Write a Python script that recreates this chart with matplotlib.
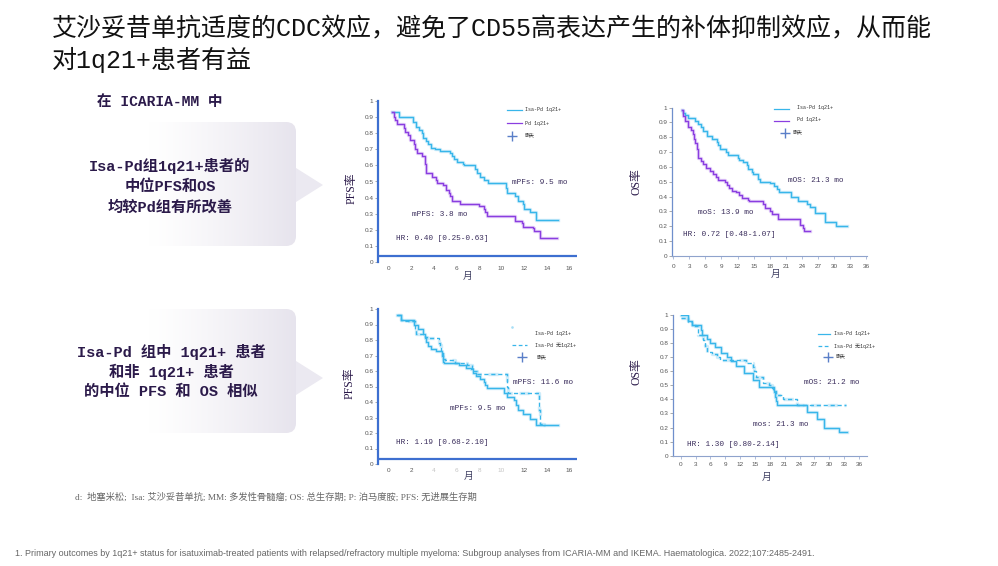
import numpy as np
import matplotlib
matplotlib.use("Agg")
import matplotlib.pyplot as plt
from matplotlib.patches import FancyBboxPatch, Polygon
from matplotlib.lines import Line2D

plt.rcParams['font.family'] = ['Noto Sans CJK SC', 'DejaVu Sans']

# ---------------- data ----------------
title_lines = ["艾沙妥昔单抗适度的CDC效应，避免了CD55高表达产生的补体抑制效应，从而能",
               "对1q21+患者有益"]
box1_lines = ["Isa-Pd组1q21+患者的", "中位PFS和OS", "均较Pd组有所改善"]
box2_lines = ["Isa-Pd 组中 1q21+ 患者", "和非 1q21+ 患者", "的中位 PFS 和 OS 相似"]

# Panel A: PFS, Isa-Pd 1q21+ vs Pd 1q21+
pfsA_isa_t = [0.3, 0.9, 2.1, 2.4, 2.7, 2.9, 3.0, 3.3, 3.5, 3.7, 4.1, 4.5, 5.4, 5.6, 5.8, 6.0, 6.6, 6.7,
              7.6, 7.8, 8.1, 8.4, 8.8, 10.4, 10.45, 11.2, 11.5, 11.9, 12.0, 12.5, 13.1, 15.0]
pfsA_isa_s = [0.93, 0.90, 0.87, 0.84, 0.82, 0.80, 0.77, 0.75, 0.73, 0.71, 0.70, 0.69, 0.68, 0.66, 0.64, 0.62,
              0.61, 0.60, 0.575, 0.55, 0.53, 0.51, 0.49, 0.46, 0.43, 0.41, 0.38, 0.36, 0.33, 0.31, 0.26, 0.26]
pfsA_pd_t = [0.3, 0.4, 0.5, 0.7, 1.3, 1.4, 1.7, 1.9, 2.2, 2.3, 2.5, 2.9, 3.2, 3.25, 3.3, 3.8, 4.2, 4.3, 4.8,
             5.1, 5.3, 5.4, 5.6, 6.3, 8.0, 8.4, 8.5, 8.7, 11.2, 11.8, 11.9, 12.8, 12.9, 13.4, 14.9]
pfsA_pd_s = [0.93, 0.90, 0.88, 0.86, 0.83, 0.81, 0.79, 0.76, 0.73, 0.70, 0.68, 0.66, 0.61, 0.58, 0.55, 0.53,
             0.51, 0.49, 0.48, 0.45, 0.43, 0.41, 0.38, 0.36, 0.345, 0.33, 0.31, 0.285, 0.255, 0.245, 0.22,
             0.21, 0.19, 0.15, 0.15]

# Panel B: OS, Isa-Pd 1q21+ vs Pd 1q21+
osB_isa_t = [1.6, 1.9, 2.2, 2.8, 4.0, 4.7, 5.2, 5.6, 6.4, 7.2, 8.2, 8.4, 8.7, 9.8, 10.3, 12.0, 12.2, 13.1,
             13.7, 14.0, 14.6, 14.9, 15.9, 16.2, 18.1, 18.8, 19.3, 19.8, 21.9, 23.3, 24.9, 25.5, 26.5,
             28.3, 30.4, 32.3]
osB_isa_s = [0.98, 0.96, 0.95, 0.93, 0.91, 0.89, 0.87, 0.84, 0.81, 0.79, 0.77, 0.75, 0.72, 0.70, 0.68,
             0.66, 0.645, 0.63, 0.61, 0.585, 0.565, 0.55, 0.52, 0.50, 0.49, 0.47, 0.45, 0.43, 0.40,
             0.37, 0.35, 0.33, 0.29, 0.23, 0.20, 0.20]
osB_pd_t = [1.6, 1.9, 2.2, 2.8, 3.4, 3.7, 3.9, 4.1, 4.4, 4.7, 5.2, 5.6, 6.2, 6.8, 7.5, 8.0, 8.4, 9.7, 10.1,
            10.5, 10.9, 11.8, 12.3, 12.8, 14.0, 14.2, 16.7, 17.1, 18.1, 18.4, 19.6, 23.7, 24.2, 24.3, 25.4]
osB_pd_s = [0.98, 0.94, 0.91, 0.87, 0.85, 0.82, 0.79, 0.76, 0.72, 0.66, 0.64, 0.62, 0.59, 0.57, 0.55,
            0.53, 0.51, 0.50, 0.48, 0.46, 0.44, 0.43, 0.41, 0.39, 0.38, 0.37, 0.35, 0.32, 0.30, 0.28,
            0.25, 0.21, 0.19, 0.17, 0.17]

# Panel C: PFS, Isa-Pd 1q21+ vs Isa-Pd non-1q21+
pfsC_pos_t = [0.74, 1.07, 2.2, 2.6, 3.05, 3.2, 3.3, 3.5, 3.7, 4.2, 4.7, 4.8, 4.85, 6.2, 6.8, 7.3, 7.5, 7.7,
              8.1, 8.4, 8.55, 8.7, 10.2, 10.5, 11.1, 11.3, 11.5, 11.9, 12.5, 13.1, 15.05]
pfsC_pos_s = [0.96, 0.93, 0.90, 0.87, 0.84, 0.81, 0.79, 0.76, 0.74, 0.73, 0.70, 0.66, 0.65, 0.64, 0.62,
              0.61, 0.59, 0.57, 0.55, 0.53, 0.51, 0.49, 0.46, 0.43, 0.41, 0.38, 0.35, 0.32, 0.29, 0.25, 0.25]
pfsC_neg_t = [0.74, 1.07, 1.3, 2.3, 2.4, 3.2, 3.35, 4.4, 4.5, 4.65, 4.8, 5.0, 5.9, 6.9, 7.35, 7.5, 7.8,
              10.46, 10.5, 10.6, 13.36, 13.4, 13.8, 13.9]
pfsC_neg_s = [0.96, 0.93, 0.92, 0.87, 0.84, 0.82, 0.81, 0.78, 0.77, 0.73, 0.68, 0.67, 0.65, 0.64, 0.62,
              0.60, 0.58, 0.55, 0.50, 0.46, 0.35, 0.26, 0.25, 0.25]

# Panel D: OS, Isa-Pd 1q21+ vs Isa-Pd non-1q21+
osD_pos_t = [0.0, 1.5, 2.2, 4.2, 4.4, 5.4, 5.9, 6.9, 8.1, 9.3, 10.1, 11.1, 12.8, 14.6, 15.8, 18.8, 19.1,
             19.3, 19.5, 25.5, 27.5, 28.9, 32.0, 33.6]
osD_pos_s = [1.0, 0.96, 0.93, 0.89, 0.86, 0.83, 0.80, 0.77, 0.73, 0.70, 0.67, 0.64, 0.59, 0.54, 0.49,
             0.45, 0.42, 0.39, 0.36, 0.31, 0.26, 0.20, 0.165, 0.165]
osD_neg_t = [0.0, 1.5, 2.2, 2.9, 3.6, 4.5, 4.9, 5.4, 6.4, 7.4, 7.9, 13.2, 14.6, 14.9, 15.3, 16.7, 17.8,
             18.5, 18.7, 19.3, 20.7, 23.5, 33.3]
osD_neg_s = [0.976, 0.95, 0.93, 0.92, 0.86, 0.82, 0.78, 0.74, 0.72, 0.70, 0.68, 0.66, 0.63, 0.60, 0.56,
             0.52, 0.50, 0.48, 0.46, 0.43, 0.40, 0.36, 0.36]

yticks = [0, 0.1, 0.2, 0.3, 0.4, 0.5, 0.6, 0.7, 0.8, 0.9, 1]
ytick_labels = ["0", "0.1", "0.2", "0.3", "0.4", "0.5", "0.6", "0.7", "0.8", "0.9", "1"]
pfs_xticks = list(range(0, 17, 2))
os_xticks = list(range(0, 37, 3))

# ---------------- style ----------------
W, H = 998, 566
CYAN = "#38b6ea"
CYAN_L = "#a6def6"
PURPLE = "#8a3ee0"
PURPLE_L = "#cfaaf3"
AXBLUE = "#3d6fd0"
TXT = "#3a2d5c"
DARK = "#2b1a4a"
MONO = ['Liberation Mono', 'Noto Sans CJK SC']
SERIF = ['Liberation Serif', 'Noto Sans CJK SC']

fig = plt.figure(figsize=(W / 100, H / 100), dpi=100)
fig.patch.set_facecolor("white")

# overlay axes in pixel coordinates
ov = fig.add_axes([0, 0, 1, 1], zorder=-1)
ov.set_xlim(0, W)
ov.set_ylim(H, 0)
ov.axis("off")


def px_axes(left, top, right, bottom):
    return fig.add_axes([left / W, 1 - bottom / H, (right - left) / W, (bottom - top) / H])


def km(ax, t, s, color, light, ls="-"):
    ax.step(t, s, where="post", color=light, lw=2.4, alpha=0.55, ls=ls, zorder=2)
    ax.step(t, s, where="post", color=color, lw=1.0, ls=ls, zorder=3)


def style_axes(ax, xlim, xticks, thick, xpad, xtick_alpha=None):
    ax.set_facecolor("none")
    ax.set_xlim(*xlim)
    ax.set_ylim(0, 1)
    ax.set_yticks(yticks)
    ax.set_yticklabels(ytick_labels)
    ax.set_xticks(xticks)
    ax.set_xticklabels([str(v) for v in xticks])
    for sp in ["top", "right"]:
        ax.spines[sp].set_visible(False)
    if thick:
        ax.spines["left"].set_color(AXBLUE)
        ax.spines["left"].set_linewidth(1.6)
        ax.spines["bottom"].set_visible(False)
        ax.axhline(0.035, color=AXBLUE, lw=1.6, zorder=4)
        ax.tick_params(axis="x", length=0, pad=xpad)
    else:
        ax.spines["left"].set_color("#6f8fcc")
        ax.spines["left"].set_linewidth(0.9)
        ax.spines["bottom"].set_color("#8fa3cc")
        ax.spines["bottom"].set_linewidth(0.8)
        ax.tick_params(axis="x", length=2, width=0.5, color="#8fa3cc", pad=xpad)
    ax.tick_params(axis="y", length=2, width=0.5, color="#888888", pad=1.2)
    for lab in ax.get_xticklabels() + ax.get_yticklabels():
        lab.set_fontsize(4.6)
        lab.set_color("#555555")
        lab.set_family(['Liberation Sans', 'DejaVu Sans'])
    if xtick_alpha is not None:
        for lab in ax.get_xticklabels():
            if lab.get_text() in xtick_alpha:
                lab.set_alpha(0.35)


# ---------------- panels ----------------
axA = px_axes(378, 101, 577, 262)
style_axes(axA, (-0.98, 16.7), pfs_xticks, True, 3.0)
km(axA, pfsA_isa_t, pfsA_isa_s, CYAN, CYAN_L)
km(axA, pfsA_pd_t, pfsA_pd_s, PURPLE, PURPLE_L)

axB = px_axes(672, 107.5, 867, 256)
style_axes(axB, (-0.2, 36.1), os_xticks, False, 3.5)
km(axB, osB_isa_t, osB_isa_s, CYAN, CYAN_L)
km(axB, osB_pd_t, osB_pd_s, PURPLE, PURPLE_L)

axC = px_axes(378, 309, 577, 464)
style_axes(axC, (-0.98, 16.7), pfs_xticks, True, 3.0, xtick_alpha=["4", "6", "8", "10"])
km(axC, pfsC_neg_t, pfsC_neg_s, CYAN, CYAN_L, ls=(0, (3, 2)))
km(axC, pfsC_pos_t, pfsC_pos_s, CYAN, CYAN_L)

axD = px_axes(672.7, 315, 867, 455.7)
style_axes(axD, (-1.6, 37.6), os_xticks, False, 2.5)
km(axD, osD_neg_t, osD_neg_s, CYAN, CYAN_L, ls=(0, (3, 2)))
km(axD, osD_pos_t, osD_pos_s, CYAN, CYAN_L)

# ---------------- overlay text ----------------
ov.text(52, 29, title_lines[0], fontsize=18, color="#111111", va="center", ha="left", family=MONO)
ov.text(52, 60, title_lines[1], fontsize=18, color="#111111", va="center", ha="left", family=MONO)

ov.text(160, 102, "在 ICARIA-MM 中", fontsize=10.5, color=DARK, va="center", ha="center",
        family=MONO, fontweight="bold")


def grad_box(x0, y0, x1, y1, tip_y):
    n = 256
    g = np.linspace(0, 1, n)
    g = np.clip((g - 0.35) / 0.65, 0, 1) ** 1.2
    c0 = np.array([1.0, 1.0, 1.0])
    c1 = np.array([0.905, 0.894, 0.930])
    img = (c0[None, :] * (1 - g[:, None]) + c1[None, :] * g[:, None])[None, :, :]
    im = ov.imshow(img, extent=(x0, x1, y1, y0), aspect="auto", zorder=0, interpolation="bilinear")
    clip = FancyBboxPatch((x0, y0), x1 - x0, y1 - y0,
                          boxstyle="round,pad=0,rounding_size=10",
                          transform=ov.transData, facecolor="none", edgecolor="none")
    ov.add_patch(clip)
    im.set_clip_path(clip)
    tri = Polygon([[x1, tip_y - 17], [x1 + 27, tip_y], [x1, tip_y + 17]], closed=True,
                  facecolor="#ebe9f1", edgecolor="none", zorder=0)
    ov.add_patch(tri)


grad_box(70, 122, 296, 246, 185)
grad_box(70, 309, 296, 433, 378)
ov.set_xlim(0, W)
ov.set_ylim(H, 0)

for i, line in enumerate(box1_lines):
    ov.text(170, 166 + i * 20.5, line, fontsize=11, color=DARK, va="center", ha="center",
            family=MONO, fontweight="bold")
for i, line in enumerate(box2_lines):
    ov.text(171, 352 + i * 19.5, line, fontsize=11, color=DARK, va="center", ha="center",
            family=MONO, fontweight="bold")

# y labels
ov.text(352, 188, "PFS率", fontsize=8.5, rotation=90, color=DARK, va="center", ha="center", family=SERIF)
ov.text(637, 182, "OS率", fontsize=8.5, rotation=90, color=DARK, va="center", ha="center", family=SERIF)
ov.text(350, 383, "PFS率", fontsize=8.5, rotation=90, color=DARK, va="center", ha="center", family=SERIF)
ov.text(637, 372, "OS率", fontsize=8.5, rotation=90, color=DARK, va="center", ha="center", family=SERIF)

# x labels
for (x, y) in [(468, 276), (776, 274), (469, 476), (767, 477)]:
    ov.text(x, y, "月", fontsize=7, color="#444466", va="center", ha="center", family=SERIF)

# annotations
ann = [
    (512, 183, "mPFs: 9.5 mo"), (412, 215, "mPFS: 3.8 mo"), (396, 238, "HR: 0.40 [0.25-0.63]"),
    (788, 180, "mOS: 21.3 mo"), (698, 212, "moS: 13.9 mo"), (683, 235, "HR: 0.72 [0.48-1.07]"),
    (513, 383, "mPFS: 11.6 mo"), (450, 409, "mPFs: 9.5 mo"), (396, 443, "HR: 1.19 [0.68-2.10]"),
    (804, 383, "mOS: 21.2 mo"), (753, 424, "mos: 21.3 mo"), (687, 444, "HR: 1.30 [0.80-2.14]"),
]
for x, y, s in ann:
    ov.text(x, y, s, fontsize=5.6, color=TXT, va="center", ha="left", family=MONO)

# legends (drawn in pixel coordinates)
def leg_line(x0, x1, y, color, ls="-"):
    ov.add_line(Line2D([x0, x1], [y, y], color=color, lw=0.9, ls=ls, zorder=6))


def leg_text(x, y, s):
    ov.text(x, y, s, fontsize=3.6, color="#333333", va="center", ha="left", family=MONO, zorder=6)


def leg_cross(x, y):
    ov.plot([x], [y], marker="+", ms=7, mew=1.0, color="#5a7fc8", zorder=6)


leg_line(507, 522, 110, CYAN); leg_text(525, 110, "Isa-Pd 1q21+")
leg_line(507, 522, 123, PURPLE); leg_text(525, 123, "Pd 1q21+")
leg_cross(512, 136); leg_text(525, 135, "删失")

leg_line(774, 789, 109, CYAN); leg_text(797, 107, "Isa-Pd 1q21+")
leg_line(774, 789, 121, PURPLE); leg_text(797, 120, "Pd 1q21+")
leg_cross(785, 133); leg_text(793, 132, "删失")

ov.plot([512], [327], marker="s", ms=0.8, color=CYAN_L, zorder=6)
leg_text(535, 333, "Isa-Pd 1q21+")
leg_line(512, 527, 345, CYAN, ls=(0, (3, 2))); leg_text(535, 345, "Isa-Pd 无1q21+")
leg_cross(522, 357); leg_text(537, 357, "删失")

leg_line(818, 830, 334, CYAN); leg_text(834, 334, "Isa-Pd 1q21+")
leg_line(818, 830, 346, CYAN, ls=(0, (3, 2))); leg_text(834, 346, "Isa-Pd 无1q21+")
leg_cross(828, 357); leg_text(836, 356, "删失")

# footnotes
ov.text(75, 497, "d:  地塞米松;  Isa: 艾沙妥昔单抗; MM: 多发性骨髓瘤; OS: 总生存期; P: 泊马度胺; PFS: 无进展生存期",
        fontsize=6.7, color="#666666", va="center", ha="left", family=SERIF)
ov.text(15, 553, "1. Primary outcomes by 1q21+ status for isatuximab-treated patients with relapsed/refractory "
        "multiple myeloma: Subgroup analyses from ICARIA-MM and IKEMA. Haematologica. 2022;107:2485-2491.",
        fontsize=6.45, color="#666666", va="center", ha="left", family=['Liberation Sans Narrow', 'Liberation Sans'])

fig.savefig("out.png", dpi=100, facecolor="white")
